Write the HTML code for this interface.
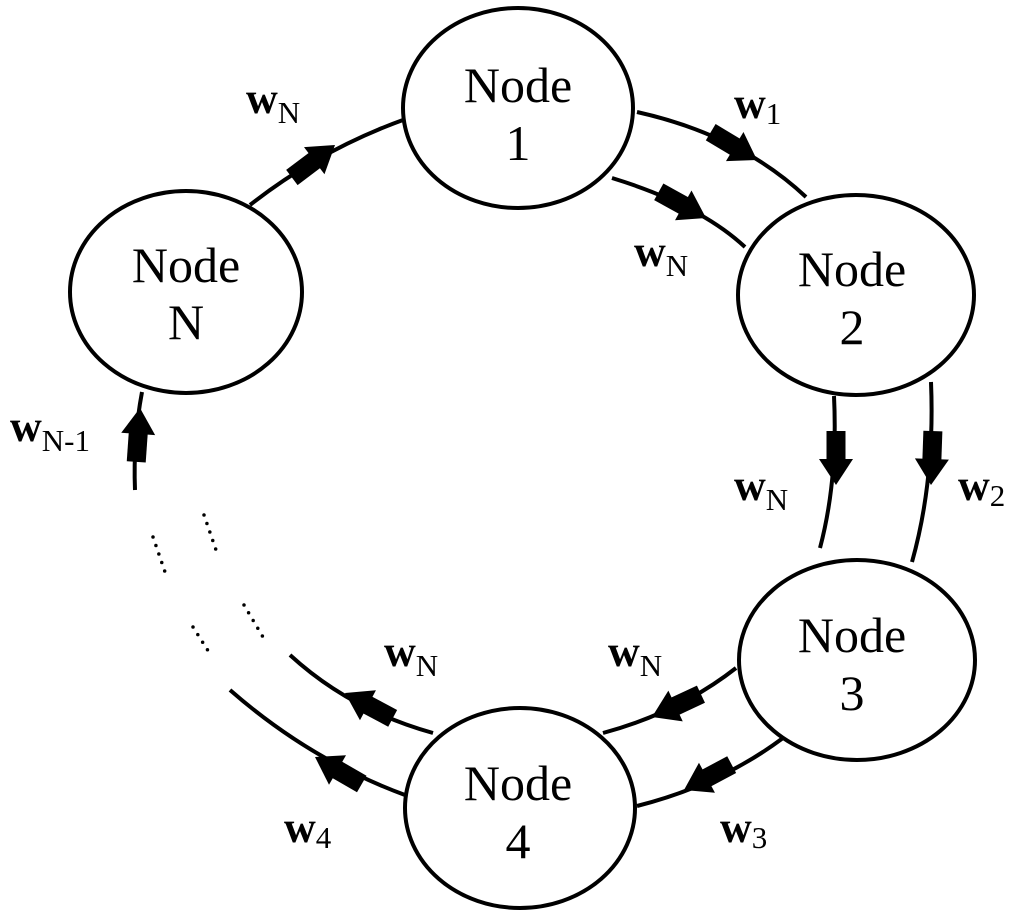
<!DOCTYPE html>
<html><head><meta charset="utf-8"><style>
html,body{margin:0;padding:0;background:#fff;}
svg{display:block;}
text{font-family:"Liberation Serif",serif;fill:#000;}
.n{font-size:50px;text-anchor:middle;}
.w{font-size:44px;font-weight:bold;}
.s{font-size:31px;font-weight:normal;}
</style></head><body>
<svg width="1024" height="922" viewBox="0 0 1024 922" xmlns="http://www.w3.org/2000/svg">
<defs>
<g id="a"><polygon points="0,0 -26,-17 -26,17" fill="#000"/><rect x="-54" y="-9.5" width="30" height="19" fill="#000"/></g>
</defs>
<g fill="none" stroke="#000" stroke-width="4">
<path d="M250,205 Q320,150 403,120"/>
<path d="M637,112 Q740,135 806,197"/>
<path d="M612,178 Q700,205 745,247"/>
<path d="M834,396 Q838,480 820,548"/>
<path d="M931,382 Q935,480 912,562"/>
<path d="M736,668 Q680,712 603,733"/>
<path d="M433,733 Q350,710 290,655"/>
<path d="M783,738 Q720,785 637,806"/>
<path d="M405,795 Q310,760 230,690"/>
<path d="M135,490 Q133,440 142,392"/>
</g>
<g fill="none" stroke="#000" stroke-width="3.5" stroke-linecap="round" stroke-dasharray="0 9">
<line x1="153" y1="537" x2="165" y2="572"/>
<line x1="204" y1="515" x2="216" y2="550"/>
<line x1="193" y1="627" x2="212" y2="657"/>
<line x1="244" y1="605" x2="263" y2="637"/>
</g>
<use href="#a" transform="translate(335,145) rotate(-37)"/>
<use href="#a" transform="translate(757,160) rotate(31)"/>
<use href="#a" transform="translate(706,218) rotate(29)"/>
<use href="#a" transform="translate(836,485) rotate(90)"/>
<use href="#a" transform="translate(931,485) rotate(92)"/>
<use href="#a" transform="translate(652,717) rotate(155)"/>
<use href="#a" transform="translate(684,790) rotate(152)"/>
<use href="#a" transform="translate(345,693) rotate(208)"/>
<use href="#a" transform="translate(315,757) rotate(210)"/>
<use href="#a" transform="translate(140,408) rotate(-86)"/>
<g fill="#fff" stroke="#000" stroke-width="4">
<ellipse cx="518" cy="108" rx="115" ry="100"/>
<ellipse cx="856" cy="295" rx="118" ry="100"/>
<ellipse cx="186" cy="292" rx="116" ry="101"/>
<ellipse cx="857" cy="660" rx="118" ry="100"/>
<ellipse cx="520" cy="808" rx="115" ry="100"/>
</g>
<text class="n" x="518" y="102">Node</text><text class="n" x="518" y="160">1</text>
<text class="n" x="852" y="286">Node</text><text class="n" x="852" y="344">2</text>
<text class="n" x="186" y="282">Node</text><text class="n" x="186" y="339">N</text>
<text class="n" x="852" y="652">Node</text><text class="n" x="852" y="710">3</text>
<text class="n" x="518" y="800">Node</text><text class="n" x="518" y="858">4</text>
<text class="w" x="246" y="113">w<tspan class="s" dy="10">N</tspan></text>
<text class="w" x="734" y="118">w<tspan class="s" dy="6">1</tspan></text>
<text class="w" x="634" y="266">w<tspan class="s" dy="10">N</tspan></text>
<text class="w" x="734" y="500">w<tspan class="s" dy="10">N</tspan></text>
<text class="w" x="958" y="500">w<tspan class="s" dy="6">2</tspan></text>
<text class="w" x="608" y="666">w<tspan class="s" dy="10">N</tspan></text>
<text class="w" x="384" y="666">w<tspan class="s" dy="10">N</tspan></text>
<text class="w" x="720" y="842">w<tspan class="s" dy="6">3</tspan></text>
<text class="w" x="284" y="842">w<tspan class="s" dy="6">4</tspan></text>
<text class="w" x="10" y="441">w<tspan class="s" dy="10">N-1</tspan></text>
</svg>
</body></html>
